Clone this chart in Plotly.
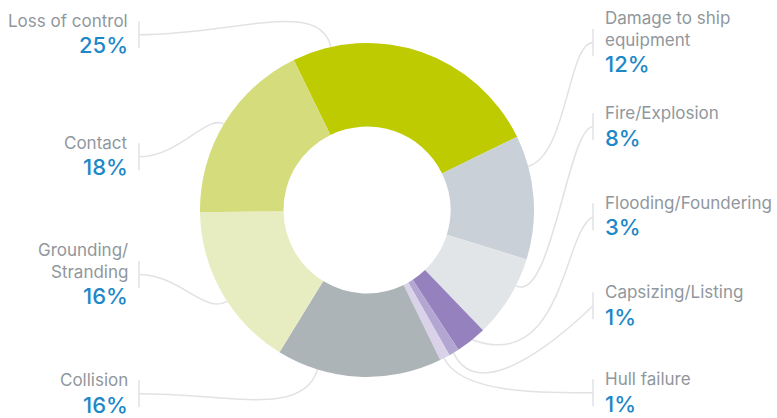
import math
import plotly.graph_objects as go

# ---- data -----------------------------------------------------------------
categories = ["Loss of control", "Damage to ship<br>equipment", "Fire/Explosion",
              "Flooding/Foundering", "Capsizing/Listing", "Hull failure",
              "Collision", "Grounding/<br>Stranding", "Contact"]
shares = [25, 12, 8, 3, 1, 1, 16, 16, 18]
pct_labels = ["25%", "12%", "8%", "3%", "1%", "1%", "16%", "16%", "18%"]

# ---- styling / layout -----------------------------------------------------
colors = ["#bdcb00", "#c9d0d7", "#e2e5e8", "#9581bd", "#b4a6d3", "#d9d2e9",
          "#acb4b8", "#e7edc1", "#d4dc7c"]
NAME_COLOR = "#90979d"
PCT_COLOR = "#1d87c8"
LINE_COLOR = "#e1e2e3"
FONT = "Inter"

W, H = 777, 418
CX, CY, R = 367, 210, 167          # donut centre and outer radius in px
HOLE = 0.5
ROTATION = -26                      # start angle of first slice (clockwise from 12 o'clock)

side = ["L", "R", "R", "R", "R", "R", "L", "L", "L"]
first_line_y = [21, 18, 113, 203, 292, 379, 380, 250, 143]
LINE_GAP = 21.5
PCT_GAP = 24.5
LEFT_TEXT_X, RIGHT_TEXT_X = 130, 603
LEFT_BAR_X, RIGHT_BAR_X = 139, 593

# where each leader meets its slice (fraction of the slice's sweep)
anchor_frac = [0.15, 0.25, 0.34, 0.46, 0.55, 0.6, 0.75, 0.44, 0.49]
# bezier handles: start handle (toward donut, down) and end handle offset
start_handle = [(95, 0), (25, 0), (25, 0), (30, 14), (25, 24), (50, 0), (90, 0), (40, 0), (40, 0)]
end_handle = [(-11, -49), (39, -10), (36, 18), (92, 34), (27, 57), (18, 36), (-15, 48), (-21, 14), (-17, -10)]


def px(x):
    return x / W


def py(y):
    return (H - y) / H


fig = go.Figure(go.Pie(
    labels=[c.replace("<br>", " ") for c in categories],
    values=shares,
    sort=False,
    direction="clockwise",
    rotation=ROTATION,
    hole=HOLE,
    marker=dict(colors=colors, line=dict(width=0)),
    textinfo="none",
    hoverinfo="label+percent",
    showlegend=False,
    domain=dict(x=[px(CX - R), px(CX + R)], y=[py(CY + R), py(CY - R)]),
))

total = sum(shares)
annotations = []
shapes = []
cum = 0.0
for i, (name, v) in enumerate(zip(categories, shares)):
    a0 = ROTATION + 360 * cum / total
    a1 = ROTATION + 360 * (cum + v) / total
    cum += v
    ang = math.radians(a0 + anchor_frac[i] * (a1 - a0))
    ex, ey = CX + R * math.sin(ang), CY - R * math.cos(ang)

    lines = name.split("<br>")
    left = side[i] == "L"
    tx = LEFT_TEXT_X if left else RIGHT_TEXT_X
    anchor = "right" if left else "left"
    y0 = first_line_y[i]
    for k, ln in enumerate(lines):
        annotations.append(dict(
            x=px(tx), y=py(y0 + k * LINE_GAP), xref="paper", yref="paper",
            text=ln, showarrow=False, xanchor=anchor, yanchor="middle",
            font=dict(family=FONT, size=17, color=NAME_COLOR)))
    pct_y = y0 + (len(lines) - 1) * LINE_GAP + PCT_GAP
    annotations.append(dict(
        x=px(tx), y=py(pct_y), xref="paper", yref="paper",
        text=pct_labels[i], showarrow=False, xanchor=anchor, yanchor="middle",
        font=dict(family=FONT, size=22, color=PCT_COLOR, weight=500)))

    # short vertical tick beside the label block
    bx = LEFT_BAR_X if left else RIGHT_BAR_X
    bc = (y0 + pct_y) / 2 + 1.5
    shapes.append(dict(type="line", xref="paper", yref="paper",
                       x0=px(bx), x1=px(bx), y0=py(bc - 13.5), y1=py(bc + 13.5),
                       line=dict(color=LINE_COLOR, width=1.5)))

    # curved leader from the tick to the slice edge
    sx, sy = bx, bc
    d = 1 if left else -1
    c1x, c1y = sx + d * start_handle[i][0], sy + start_handle[i][1]
    c2x, c2y = ex + end_handle[i][0], ey + end_handle[i][1]
    path = "M {:.4f},{:.4f} C {:.4f},{:.4f} {:.4f},{:.4f} {:.4f},{:.4f}".format(
        px(sx), py(sy), px(c1x), py(c1y), px(c2x), py(c2y), px(ex), py(ey))
    shapes.append(dict(type="path", xref="paper", yref="paper", path=path,
                       line=dict(color=LINE_COLOR, width=1.5), layer="below"))

fig.update_layout(
    width=W, height=H,
    margin=dict(l=0, r=0, t=0, b=0),
    paper_bgcolor="white", plot_bgcolor="white",
    annotations=annotations, shapes=shapes,
)

fig.write_html("out.html")
